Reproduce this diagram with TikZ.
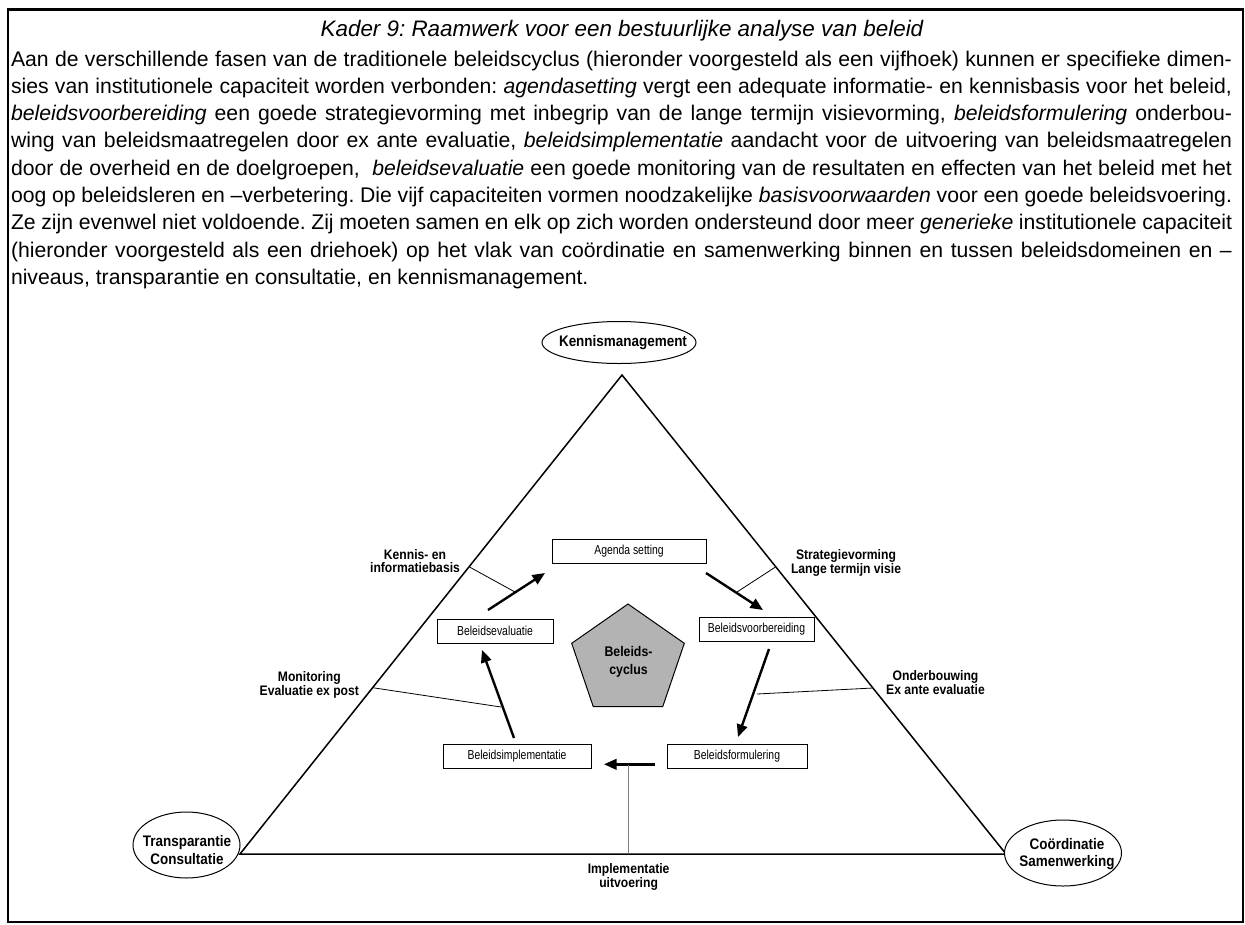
\documentclass[tikz,border=0pt]{standalone}
\usepackage{fontspec}
\setmainfont{Liberation Sans}
\newfontfamily\bodyf{Liberation Sans}
\newfontfamily\cf{Liberation Sans}[FakeStretch=0.88]
\newfontfamily\bxf{Liberation Sans}[FakeStretch=0.8]
\usetikzlibrary{arrows.meta,shapes.geometric}
\newcommand{\jline}[1]{\hbox to 1221pt{#1}}
\definecolor{pgray}{HTML}{B3B3B3}
\definecolor{lgray}{HTML}{808080}
\begin{document}
\frenchspacing
\begin{tikzpicture}[x=1pt,y=-1pt,
  every node/.style={inner sep=0pt, outer sep=0pt},
  body/.style={anchor=base west, font=\bodyf\fontsize{21.2}{27.3}\selectfont},
  ttl/.style={anchor=base, font=\bodyf\itshape\fontsize{22.4}{26}\selectfont},
  lbl/.style={align=center, font=\cf\bfseries\fontsize{13.8}{12.8}\selectfont},
  elltext/.style={align=center, font=\cf\bfseries\fontsize{15.3}{17.2}\selectfont},
  oval/.style={draw, ellipse, line width=1pt},
  stepbox/.style={draw, line width=1pt, minimum height=24pt, font=\bxf\fontsize{13}{14}\selectfont},
  flow/.style={line width=2.4pt, -{Triangle[length=12.5pt,width=10.5pt]}},
  tick/.style={line width=0.8pt},
  side/.style={line width=1.5pt},
]
\useasboundingbox (0,0) rectangle (1245,924);
% frame
\draw[line width=2.2pt] (8,9.5) rectangle (1243,922);

% title and text
\node[ttl] (title) at (622,36) {Kader 9: Raamwerk voor een bestuurlijke analyse van beleid};
\node[body] (l1) at (11,66) {\jline{Aan de verschillende fasen van de traditionele beleidscyclus (hieronder voorgesteld als een vijfhoek) kunnen er specifieke dimen-}};
\node[body] (l2) at (11,93.3) {\jline{sies van institutionele capaciteit worden verbonden: \textit{agendasetting} vergt een adequate informatie- en kennisbasis voor het beleid,}};
\node[body] (l3) at (11,120.6) {\jline{\textit{beleidsvoorbereiding} een goede strategievorming met inbegrip van de lange termijn visievorming, \textit{beleidsformulering} onderbou-}};
\node[body] (l4) at (11,147.9) {\jline{wing van beleidsmaatregelen door ex ante evaluatie, \textit{beleidsimplementatie} aandacht voor de uitvoering van beleidsmaatregelen}};
\node[body] (l5) at (11,175.2) {\jline{door de overheid en de doelgroepen,\ \ \textit{beleidsevaluatie} een goede monitoring van de resultaten en effecten van het beleid met het}};
\node[body] (l6) at (11,202.5) {\jline{oog op beleidsleren en –verbetering. Die vijf capaciteiten vormen noodzakelijke \textit{basisvoorwaarden} voor een goede beleidsvoering.}};
\node[body] (l7) at (11,229.8) {\jline{Ze zijn evenwel niet voldoende. Zij moeten samen en elk op zich worden ondersteund door meer \textit{generieke} institutionele capaciteit}};
\node[body] (l8) at (11,257.1) {\jline{(hieronder voorgesteld als een driehoek) op het vlak van coördinatie en samenwerking binnen en tussen beleidsdomeinen en –}};
\node[body] (l9) at (11,284.4) {niveaus, transparantie en consultatie, en kennismanagement.};

% triangle
\coordinate (apex) at (622,375);
\coordinate (lv) at (240,854);
\coordinate (rv) at (1006,854);
\draw[side, line join=miter] (lv) -- (apex) -- (rv) -- cycle;

% corner ovals
\node[oval, fill=white, minimum width=154pt, minimum height=42pt] (km) at (619,342.5) {};
\node[elltext] (kmt) at (623,343) {Kennismanagement};
\node[oval, fill=white, minimum width=107pt, minimum height=66pt] (tc) at (186.5,845) {};
\node[elltext] (tct) at (187,850) {Transparantie\\Consultatie};
\node[oval, fill=white, minimum width=117pt, minimum height=66pt] (cs) at (1063,853) {};
\node[elltext] (cst) at (1067,854) {Coördinatie\\Samenwerking};

% pentagon
\filldraw[fill=pgray, draw=black, line width=1pt] (628,604) -- (684.3,643.3) -- (662.7,706.7) -- (593.3,706.7) -- (571.7,643.3) -- cycle;
\node[align=center, font=\cf\bfseries\fontsize{14}{17.5}\selectfont] (pc) at (628.5,662) {Beleids-\\cyclus};

% boxes
\node[stepbox, minimum width=154pt] (ag) at (629,551) {Agenda setting};
\node[stepbox, minimum width=115pt] (vb) at (756.5,629) {Beleidsvoorbereiding};
\node[stepbox, minimum width=116pt] (ev) at (495,631) {Beleidsevaluatie};
\node[stepbox, minimum width=140pt] (fo) at (737,756) {Beleidsformulering};
\node[stepbox, minimum width=148pt] (im) at (517,756) {Beleidsimplementatie};

% flow arrows
\coordinate (a1s) at (488,610);  \coordinate (a1e) at (545,573);
\coordinate (a2s) at (706,573);  \coordinate (a2e) at (763,610);
\coordinate (a3s) at (769,649);  \coordinate (a3e) at (738,737);
\coordinate (a4s) at (655,764.3);\coordinate (a4e) at (604,764.3);
\coordinate (a5s) at (514,738);  \coordinate (a5e) at (482,650);
\draw[flow] (a1s) -- (a1e);
\draw[flow] (a2s) -- (a2e);
\draw[flow] (a3s) -- (a3e);
\draw[flow] (a4s) -- (a4e);
\draw[flow] (a5s) -- (a5e);

% capacity labels
\node[lbl] (kib) at (415,561) {Kennis- en\\informatiebasis};
\node[lbl] (slt) at (846,563) {Strategievorming\\Lange termijn visie};
\node[lbl] (mon) at (309.3,684.5) {Monitoring\\Evaluatie ex post};
\node[lbl] (ond) at (935.5,683) {Onderbouwing\\Ex ante evaluatie};
\node[lbl] (imp) at (628.6,877) {Implementatie\\uitvoering};

% ticks
\coordinate (t1a) at (469.5,567); \coordinate (t1b) at (515,592);
\coordinate (t2a) at (775.5,567); \coordinate (t2b) at (737,592);
\coordinate (t3a) at (372.7,687.7); \coordinate (t3b) at (501,707);
\coordinate (t4a) at (873,688); \coordinate (t4b) at (757,694);
\coordinate (t5a) at (628.6,765); \coordinate (t5b) at (628.6,854);
\draw[tick] (t1a) -- (t1b);
\draw[tick] (t2a) -- (t2b);
\draw[tick] (t3a) -- (t3b);
\draw[tick] (t4a) -- (t4b);
\draw[tick, draw=lgray, line width=1pt] (t5a) -- (t5b);
\end{tikzpicture}
\end{document}
